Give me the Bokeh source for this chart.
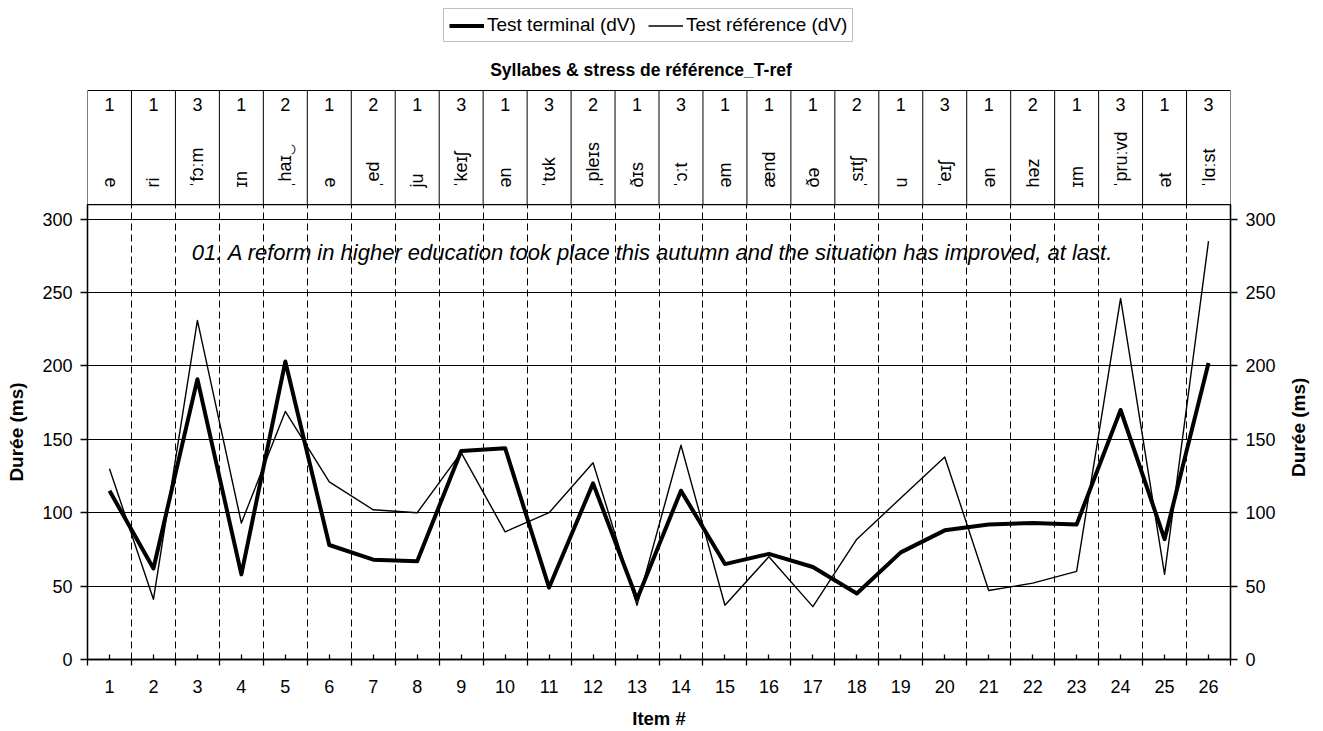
from math import pi
from bokeh.plotting import figure
from bokeh.models import (Range1d, LinearAxis, FixedTicker, Legend, LegendItem, Label,
                          ColumnDataSource, Grid)
from bokeh.layouts import column, row
from bokeh.embed import file_html
from bokeh.resources import INLINE
from bokeh.core.properties import value

# ---------------- data ----------------
items = list(range(1, 27))
stress = [1, 1, 3, 1, 2, 1, 2, 1, 3, 1, 3, 2, 1, 3, 1, 1, 1, 2, 1, 3, 1, 2, 1, 3, 1, 3]
syllables = ["ə", "ri", "ˈfɔːm", "ɪn", "ˌhaɪ‿", "ə", "ˌed", "ju", "ˈkeɪʃ", "ən", "ˈtʊk",
             "ˌpleɪs", "ðɪs", "ˈɔːt", "əm", "ænd", "ðə", "ˌsɪtʃ", "u", "ˈeɪʃ", "ən",
             "həz", "ɪm", "ˈpruːvd", "ət", "ˈlɑːst"]
terminal = [115, 62, 191, 58, 203, 78, 68, 67, 142, 144, 49, 120, 41, 115, 65, 72, 63,
            45, 73, 88, 92, 93, 92, 170, 82, 202]
reference = [130, 41, 231, 93, 169, 121, 102, 100, 141, 87, 100, 134, 37, 146, 37, 70, 36,
             82, 110, 138, 47, 52, 60, 246, 58, 285]
yticks = [0, 50, 100, 150, 200, 250, 300]
series_names = ["Test terminal (dV)", "Test référence (dV)"]
header_title = "Syllabes & stress de référence_T-ref"
sentence = "01. A reform in higher education took place this autumn and the situation has improved, at last."
y_title = "Durée (ms)"
x_title = "Item #"

FONT = "Liberation Sans"
W = 1323
SIDE_W = 38
HEAD_H = 204
MAIN_H = 527
L, R = 87, 93
FRAME_H = 455
boundaries = [i + 0.5 for i in range(0, 27)]

# ---------------- header figure ----------------
head = figure(width=W, height=HEAD_H, x_range=Range1d(0.5, 26.5), y_range=Range1d(0, HEAD_H),
              min_border_left=L, min_border_right=R, min_border_top=0, min_border_bottom=0,
              toolbar_location=None, output_backend="svg", outline_line_color=None,
              x_axis_location=None, y_axis_location=None, title=None)
head.grid.visible = False

TABLE_TOP = 114
head.segment(x0=boundaries, y0=[0] * len(boundaries), x1=boundaries, y1=[TABLE_TOP] * len(boundaries),
             line_color="black", line_width=1)
head.segment(x0=[boundaries[0]], y0=[TABLE_TOP], x1=[boundaries[-1]], y1=[TABLE_TOP],
             line_color="black", line_width=1)

hsrc = ColumnDataSource(dict(x=items, s=[str(v) for v in stress], syl=syllables))
head.text(x="x", y=100, text="s", source=hsrc, text_align="center", text_baseline="middle",
          text_font=value(FONT), text_font_size="18px", text_color="black")
head.text(x="x", y=17, text="syl", source=hsrc, angle=pi / 2, text_align="left",
          text_baseline="middle", text_font=value(FONT), text_font_size="18px", text_color="black")

head.add_layout(Label(x=13.09, y=135, text=header_title, text_align="center", text_baseline="middle",
                      text_font=FONT, text_font_size="17.5px", text_font_style="bold", text_color="black"))

# renderers outside the visible area that only feed the legend
d1 = head.line(x=[-5, -4], y=[-50, -50], line_color="black", line_width=4)
d2 = head.line(x=[-5, -4], y=[-50, -50], line_color="black", line_width=1.5)
legend = Legend(items=[LegendItem(label=series_names[0], renderers=[d1]),
                       LegendItem(label=series_names[1], renderers=[d2])],
                orientation="horizontal", location=(356, 162),
                label_text_font=FONT, label_text_font_size="19px", label_text_color="black",
                glyph_width=35, glyph_height=21, label_height=21, label_standoff=3,
                spacing=12, padding=5, margin=0,
                border_line_color="#808080", border_line_width=1,
                background_fill_color="white", background_fill_alpha=1)
head.add_layout(legend)

# ---------------- main figure ----------------
main = figure(width=W - SIDE_W, height=MAIN_H, x_range=Range1d(0.5, 26.5), y_range=Range1d(0, 310),
              min_border_left=L, min_border_right=R - SIDE_W, min_border_top=0,
              min_border_bottom=MAIN_H - FRAME_H,
              toolbar_location=None, output_backend="svg", outline_line_color="black",
              outline_line_width=1.3, x_axis_location=None, y_axis_location=None, title=None)
main.grid.visible = False

main.add_layout(Grid(dimension=1, ticker=FixedTicker(ticks=yticks), grid_line_color="black",
                     grid_line_width=1))
main.add_layout(Grid(dimension=0, ticker=FixedTicker(ticks=boundaries[1:-1]), grid_line_color="black",
                     grid_line_width=1, grid_line_dash="7 4"))


def style_y(ax, with_title):
    if with_title:
        ax.axis_label = y_title
    ax.axis_label_text_font = FONT
    ax.axis_label_text_font_size = "19px"
    ax.axis_label_text_font_style = "bold"
    ax.axis_label_text_color = "black"
    ax.axis_label_standoff = 12
    ax.major_label_text_font = FONT
    ax.major_label_text_font_size = "18px"
    ax.major_label_text_color = "black"
    ax.major_label_standoff = 8
    ax.major_tick_in = 0
    ax.major_tick_out = 7
    ax.minor_tick_in = 0
    ax.minor_tick_out = 0
    ax.axis_line_width = 1.3
    ax.axis_line_color = "black"
    ax.major_tick_line_width = 1.3
    ax.major_tick_line_color = "black"


left = LinearAxis(ticker=FixedTicker(ticks=yticks))
style_y(left, True)
right = LinearAxis(ticker=FixedTicker(ticks=yticks))
style_y(right, False)
main.add_layout(left, "left")
main.add_layout(right, "right")

bottom = LinearAxis(ticker=FixedTicker(ticks=items, minor_ticks=boundaries))
bottom.axis_label = x_title
bottom.axis_label_text_font = FONT
bottom.axis_label_text_font_size = "18.5px"
bottom.axis_label_text_font_style = "bold"
bottom.axis_label_text_color = "black"
bottom.axis_label_standoff = 12
bottom.major_label_text_font = FONT
bottom.major_label_text_font_size = "18px"
bottom.major_label_text_color = "black"
bottom.major_label_standoff = 14
bottom.major_tick_in = 5
bottom.major_tick_out = 0
bottom.minor_tick_in = 0
bottom.minor_tick_out = 6
bottom.minor_tick_line_color = "black"
bottom.minor_tick_line_width = 1.3
bottom.major_tick_line_width = 1.3
bottom.major_tick_line_color = "black"
bottom.axis_line_width = 1.3
bottom.axis_line_color = "black"
main.add_layout(bottom, "below")

main.line(items, reference, line_color="black", line_width=1.4, line_join="round")
main.line(items, terminal, line_color="black", line_width=4, line_join="round")

main.add_layout(Label(x=13.36, y=277, text=sentence, text_align="center", text_baseline="middle",
                      text_font=FONT, text_font_size="22px", text_font_style="italic",
                      text_color="black"))

# ---------------- right-hand axis title (reads bottom-to-top like the left one) ----------------
side = figure(width=SIDE_W, height=MAIN_H, x_range=Range1d(0, SIDE_W), y_range=Range1d(0, MAIN_H),
              min_border=0, toolbar_location=None, output_backend="svg", outline_line_color=None,
              x_axis_location=None, y_axis_location=None, title=None)
side.grid.visible = False
side.text(x=[13], y=[269], text=[y_title], angle=pi / 2, text_align="center",
          text_baseline="middle", text_font=value(FONT), text_font_size="19px",
          text_font_style="bold", text_color="black")

layout = column(head, row(main, side, spacing=0), spacing=0)
open("out.html", "w").write(file_html(layout, INLINE))
